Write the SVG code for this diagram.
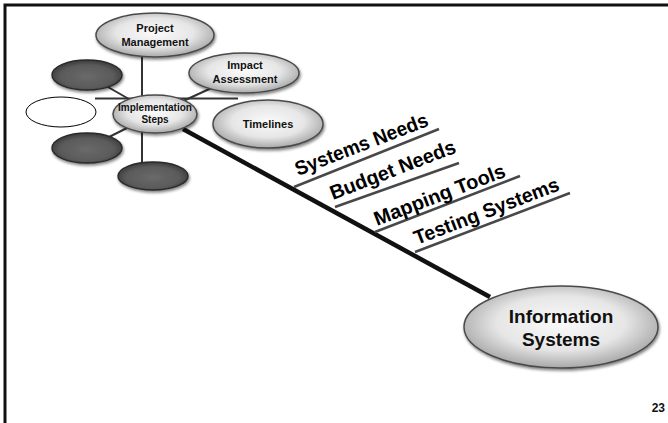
<svg xmlns="http://www.w3.org/2000/svg" width="668" height="423" viewBox="0 0 668 423">
<style>
  .lt { fill: url(#lightGrad); stroke: #4a4a4a; stroke-width: 1.5; }
  .dk { fill: url(#darkGrad); stroke: #2a2a2a; stroke-width: 1.5; }
  .sp { stroke: #333; stroke-width: 2; fill: none; }
  .nt { font-family: "Liberation Sans", Arial, sans-serif; font-weight: bold; fill: #111; text-anchor: middle; }
  .lb { font-family: "Liberation Sans", Arial, sans-serif; font-weight: bold; fill: #000; font-size: 20px; }
  .ul { stroke: #484848; stroke-width: 2.5; fill: none; }
</style>
<defs>
  <radialGradient id="lightGrad" cx="50%" cy="45%" r="55%">
    <stop offset="0" stop-color="#fafafa"/>
    <stop offset="0.6" stop-color="#e6e6e6"/>
    <stop offset="1" stop-color="#a8a8a8"/>
  </radialGradient>
  <radialGradient id="darkGrad" cx="50%" cy="55%" r="55%">
    <stop offset="0" stop-color="#6a6a6a"/>
    <stop offset="0.7" stop-color="#5a5a5a"/>
    <stop offset="1" stop-color="#3a3a3a"/>
  </radialGradient>
  <filter id="sh" x="-20%" y="-20%" width="140%" height="150%">
    <feGaussianBlur in="SourceAlpha" stdDeviation="1.5"/>
    <feOffset dx="1" dy="2" result="b"/>
    <feComponentTransfer><feFuncA type="linear" slope="0.5"/></feComponentTransfer>
    <feMerge><feMergeNode/><feMergeNode in="SourceGraphic"/></feMerge>
  </filter>
</defs>
<rect width="668" height="423" fill="#fff"/>
<!-- frame -->
<path d="M5,423 V5 H668" fill="none" stroke="#111" stroke-width="3"/>

<g id="connectors">
  <line class="sp" x1="142" y1="50" x2="142" y2="170"/>
  <line class="sp" x1="95" y1="98.5" x2="238" y2="98.5"/>
  <line class="sp" x1="87" y1="75" x2="155" y2="114"/>
  <line class="sp" x1="244" y1="73" x2="155" y2="114"/>
  <line class="sp" x1="87" y1="148" x2="155" y2="114"/>
  <line x1="183" y1="129" x2="490" y2="297" stroke="#111" stroke-width="4.5"/>
  <line class="ul" x1="294" y1="187" x2="439" y2="129"/>
  <line class="ul" x1="335" y1="207" x2="459" y2="163"/>
  <line class="ul" x1="375" y1="232" x2="520" y2="176"/>
  <line class="ul" x1="415" y1="252" x2="570" y2="193"/>
</g>

<g id="node-project-management">
  <ellipse class="lt" filter="url(#sh)" cx="155" cy="35" rx="59" ry="22"/>
  <text class="nt" font-size="11" x="155" y="32">Project</text>
  <text class="nt" font-size="11" x="155" y="46">Management</text>
</g>
<g id="node-impact-assessment">
  <ellipse class="lt" filter="url(#sh)" cx="244" cy="73" rx="55" ry="20"/>
  <text class="nt" font-size="11" x="245" y="69">Impact</text>
  <text class="nt" font-size="11" x="245" y="83">Assessment</text>
</g>
<g id="node-timelines">
  <ellipse class="lt" filter="url(#sh)" cx="268" cy="124" rx="55" ry="24"/>
  <text class="nt" font-size="11" x="268" y="128">Timelines</text>
</g>
<g id="node-dark-1">
  <ellipse class="dk" filter="url(#sh)" cx="87" cy="75" rx="35" ry="15"/>
</g>
<g id="node-blank">
  <ellipse cx="61" cy="112" rx="35" ry="15" fill="#fff" stroke="#000" stroke-width="1"/>
</g>
<g id="node-dark-2">
  <ellipse class="dk" filter="url(#sh)" cx="87" cy="148" rx="35" ry="15"/>
</g>
<g id="node-dark-3">
  <ellipse class="dk" filter="url(#sh)" cx="153" cy="176" rx="35" ry="14"/>
</g>
<g id="node-implementation-steps">
  <ellipse class="lt" filter="url(#sh)" cx="155" cy="114" rx="42" ry="19"/>
  <text class="nt" font-size="10" x="155" y="111">Implementation</text>
  <text class="nt" font-size="10" x="155" y="123">Steps</text>
</g>
<g id="node-information-systems">
  <ellipse class="lt" filter="url(#sh)" cx="561" cy="327" rx="97" ry="41"/>
  <text class="nt" font-size="19" x="561" y="323">Information</text>
  <text class="nt" font-size="19" x="561" y="346">Systems</text>
</g>

<g id="labels">
  <text class="lb" transform="translate(298,176) rotate(-21)" textLength="141" lengthAdjust="spacingAndGlyphs">Systems Needs</text>
  <text class="lb" transform="translate(333,200) rotate(-21)" textLength="133" lengthAdjust="spacingAndGlyphs">Budget Needs</text>
  <text class="lb" transform="translate(377,226) rotate(-21)" textLength="139" lengthAdjust="spacingAndGlyphs">Mapping Tools</text>
  <text class="lb" transform="translate(417,245) rotate(-21)" textLength="154" lengthAdjust="spacingAndGlyphs">Testing Systems</text>
</g>
<text x="665" y="412" font-family="Liberation Sans, Arial, sans-serif" font-weight="bold" font-size="12" text-anchor="end" fill="#111">23</text>
</svg>
